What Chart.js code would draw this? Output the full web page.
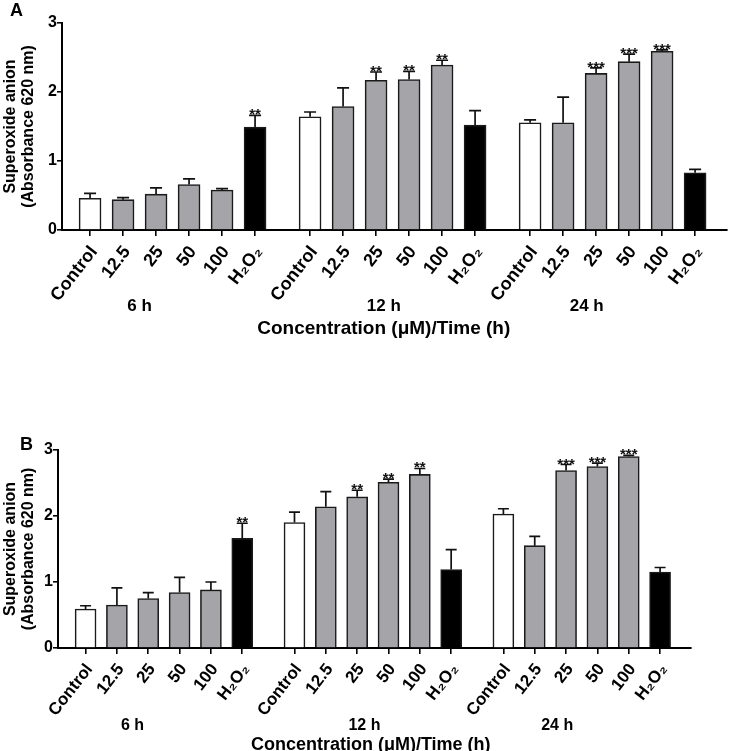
<!DOCTYPE html>
<html>
<head>
<meta charset="utf-8">
<script src="https://cdn.jsdelivr.net/npm/chart.js@4.4.0/dist/chart.umd.min.js"></script>
<style>
    body { margin: 0; background: #fff; width: 729px; height: 751px; overflow: hidden; position: relative; font-family: 'Liberation Sans', Arial, sans-serif; }
    .panel { position: absolute; left: 0; width: 729px; }
    #wrapA { top: 0; height: 375px; }
    #wrapB { top: 375px; height: 376px; }
    .tag { position: absolute; font-weight: bold; font-size: 18px; line-height: 18px; }
</style>
</head>
<body>
<div id="wrapA" class="panel"><canvas id="chartA" width="729" height="375"></canvas></div>
<div id="wrapB" class="panel"><canvas id="chartB" width="729" height="376"></canvas></div>
<div class="tag" style="left:10px;top:1px">A</div>
<div class="tag" style="left:20px;top:435px">B</div>
<script>
// categories
const doseLabels = ['Control', '12.5', '25', '50', '100', 'H\u2082O\u2082'];
const timeLabels = ['6 h', '12 h', '24 h'];
const yTitle = ['Superoxide anion', '(Absorbance 620 nm)'];
const xTitle = 'Concentration (\u03bcM)/Time (h)';

// panel A values (6 h, 12 h, 24 h, each Control..H2O2)
const superoxideA = [0.46, 0.44, 0.52, 0.66, 0.58, 1.49,
                     1.64, 1.79, 2.17, 2.18, 2.39, 1.52,
                     1.555, 1.555, 2.27, 2.44, 2.59, 0.83];
const semA = [0.07, 0.03, 0.09, 0.08, 0.02, 0.17,
              0.07, 0.27, 0.12, 0.12, 0.07, 0.21,
              0.04, 0.37, 0.08, 0.11, 0.02, 0.05];
const starsA = ['', '', '', '', '', '**',
                '', '', '**', '**', '**', '',
                '', '', '***', '***', '***', ''];

// panel B values
const superoxideB = [0.59, 0.65, 0.75, 0.84, 0.88, 1.66,
                     1.90, 2.14, 2.29, 2.51, 2.63, 1.19,
                     2.03, 1.55, 2.69, 2.75, 2.90, 1.15];
const semB = [0.05, 0.26, 0.09, 0.23, 0.12, 0.23,
              0.16, 0.23, 0.10, 0.05, 0.09, 0.30,
              0.08, 0.14, 0.09, 0.05, 0.02, 0.07];
const starsB = ['', '', '', '', '', '**',
                '', '', '**', '**', '**', '',
                '', '', '***', '***', '***', ''];

const yTicks = [0, 1, 2, 3];

// bar fill by dose
const doseColors = ['#ffffff', '#a5a4a9', '#a5a4a9', '#a5a4a9', '#a5a4a9', '#000000'];

// slot positions: six bars per time point, an extra 2/3 slot between the groups
const groupGap = 2 / 3;
let slots = [];
timeLabels.forEach((t, g) => {
    doseLabels.forEach((d, i) => slots.push(g * (doseLabels.length + groupGap) + i));
});

const FONT = "'Liberation Sans', Arial, sans-serif";

// Error whiskers (upper only), stars, group names and x title
const errorBarPlugin = {
    id: 'errorBars',
    afterDatasetsDraw(chart, args, opts) {
        const ctx = chart.ctx;
        const y = chart.scales.y;
        const meta = chart.getDatasetMeta(0);
        ctx.save();
        ctx.strokeStyle = '#111';
        ctx.lineWidth = 1.7;
        ctx.fillStyle = '#111';
        ctx.font = 'bold 15px ' + FONT;
        ctx.textAlign = 'center';
        ctx.textBaseline = 'alphabetic';
        meta.data.forEach((bar, i) => {
            const top = y.getPixelForValue(opts.means[i] + opts.errors[i]);
            ctx.beginPath();
            ctx.moveTo(bar.x, bar.y);
            ctx.lineTo(bar.x, top);
            ctx.moveTo(bar.x - opts.cap, top);
            ctx.lineTo(bar.x + opts.cap, top);
            ctx.stroke();
            if (opts.stars[i]) {
                ctx.fillText(opts.stars[i], bar.x, top + 4);
            }
        });
        ctx.restore();
    },
    afterDraw(chart, args, opts) {
        const ctx = chart.ctx;
        const x = chart.scales.x;
        ctx.save();
        ctx.fillStyle = '#000';
        ctx.textAlign = 'center';
        ctx.textBaseline = 'middle';
        ctx.font = 'bold ' + opts.groupSize + 'px ' + FONT;
        timeLabels.forEach((t, g) => {
            ctx.fillText(t, x.getPixelForValue(opts.groupPos[g]), opts.groupY);
        });
        ctx.font = 'bold ' + opts.titleSize + 'px ' + FONT;
        ctx.fillText(xTitle, x.getPixelForValue(opts.titlePos), opts.titleY);
        ctx.restore();
    }
};

function makeChart(id, means, errors, stars, box) {
    const points = slots.map((s, i) => ({x: s, y: means[i]}));
    return new Chart(document.getElementById(id), {
        type: 'bar',
        data: {
            datasets: [{
                data: points,
                backgroundColor: slots.map((s, i) => doseColors[i % doseLabels.length]),
                borderColor: '#1a1a1a',
                borderWidth: 1.6,
                borderSkipped: 'bottom',
                barThickness: box.barWidth
            }]
        },
        options: {
            responsive: false,
            animation: false,
            events: [],
            layout: {padding: {top: box.top, right: box.right, left: 0, bottom: 0}},
            plugins: {
                legend: {display: false},
                tooltip: {enabled: false},
                errorBars: {
                    means: means, errors: errors, stars: stars, cap: box.cap,
                    groupPos: [1.5, 8.9, 15.05], groupY: box.groupY, groupSize: box.groupSize,
                    titlePos: box.titlePos, titleY: box.titleY, titleSize: box.titleSize
                }
            },
            scales: {
                x: {
                    type: 'linear',
                    offset: false,
                    min: box.xmin,
                    max: box.xmax,
                    afterFit: (scale) => {
                        scale.height = box.xHeight;
                        scale.paddingLeft = 0;
                        scale.paddingRight = 0;
                    },
                    afterBuildTicks: (scale) => { scale.ticks = slots.map(v => ({value: v})); },
                    grid: {offset: false, drawOnChartArea: false, drawTicks: true, tickLength: 6, color: '#000', lineWidth: 1.6},
                    border: {color: '#000', width: 2},
                    ticks: {
                        autoSkip: false,
                        minRotation: 52,
                        maxRotation: 52,
                        padding: 6,
                        labelOffset: 4,
                        color: '#000',
                        font: {family: FONT, size: box.tickSize, weight: 'bold'},
                        callback: (v, i) => doseLabels[i % doseLabels.length]
                    }
                },
                y: {
                    min: 0,
                    max: 3,
                    afterFit: (scale) => {
                        scale.width = box.yWidth;
                        scale.paddingTop = 0;
                        scale.paddingBottom = 0;
                    },
                    afterBuildTicks: (scale) => { scale.ticks = yTicks.map(v => ({value: v})); },
                    grid: {drawOnChartArea: false, drawTicks: true, tickLength: 5, color: '#000', lineWidth: 1.6},
                    border: {color: '#000', width: 2},
                    ticks: {
                        padding: 0,
                        color: '#000',
                        font: {family: FONT, size: 16, weight: 'bold'}
                    },
                    title: {
                        display: true,
                        text: yTitle,
                        color: '#000',
                        padding: {top: 1, bottom: 0},
                        font: {family: FONT, size: 16, weight: 'bold', lineHeight: 1.15}
                    }
                }
            }
        },
        plugins: [errorBarPlugin]
    });
}

makeChart('chartA', superoxideA, semA, starsA, {
    top: 23, right: 2, yWidth: 62, xHeight: 145, xmin: -0.85, xmax: 19.3,
    barWidth: 22, cap: 6, tickSize: 18, groupY: 306, groupSize: 17,
    titlePos: 8.9, titleY: 329, titleSize: 19
});
makeChart('chartB', superoxideB, semB, starsB, {
    top: 75, right: 38, yWidth: 58, xHeight: 103, xmin: -0.88, xmax: 19.32,
    barWidth: 21, cap: 5.5, tickSize: 17, groupY: 351, groupSize: 16,
    titlePos: 9.1, titleY: 370, titleSize: 18
});
</script>
</body>
</html>
